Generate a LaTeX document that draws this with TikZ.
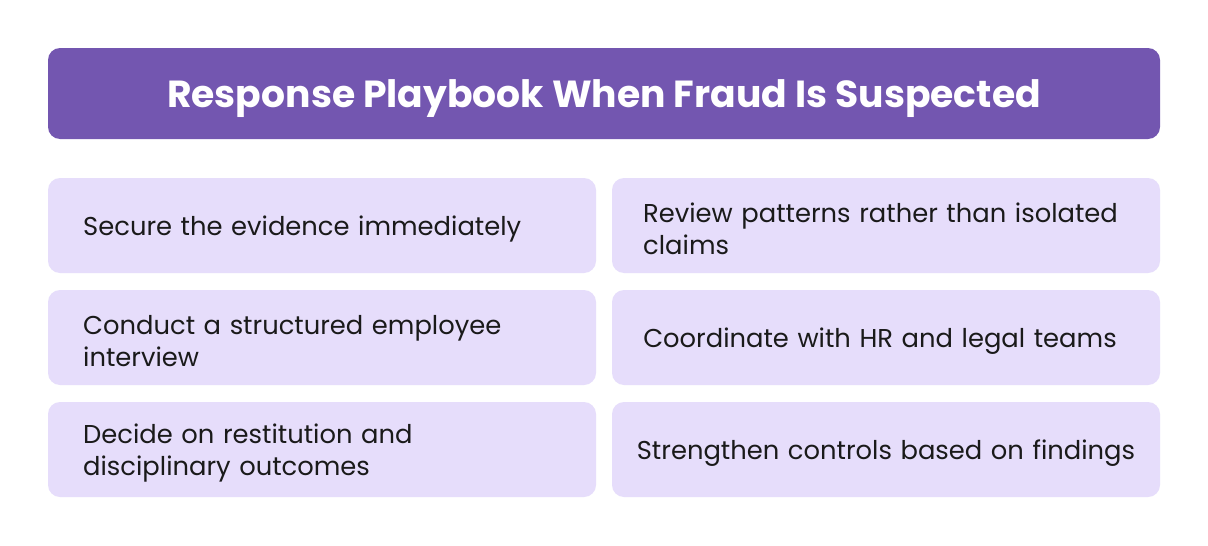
\documentclass[tikz,border=0pt]{standalone}
\usepackage{fontspec}
\setmainfont{Poppins}
\definecolor{hdr}{HTML}{7356B0}
\definecolor{cell}{HTML}{E6DDFB}
\definecolor{txt}{HTML}{1A1A1A}
\begin{document}
\begin{tikzpicture}[x=1pt,y=-1pt,
  head/.style={fill=hdr,rounded corners=12pt,draw=none},
  cellbox/.style={fill=cell,rounded corners=12pt,draw=none},
  ltext/.style={anchor=west,align=left,text width=500pt,font=\fontsize{25.8}{32}\selectfont,text=txt,inner sep=0pt},
  rtext/.style={anchor=center,align=center,text width=540pt,font=\fontsize{25.8}{32}\selectfont,text=txt,inner sep=0pt}]
\useasboundingbox (0,0) rectangle (1208,546);
\fill[white] (0,0) rectangle (1208,546);
\fill[head] (48,48) rectangle (1160,139);
\node[font=\bfseries\fontsize{37.7}{42}\selectfont,text=white] (title) at (604,99) {Response Playbook When Fraud Is Suspected};
\foreach \y/\n in {178/1,290/2,402/3}{
  \fill[cellbox] (48,\y) rectangle (596,\y+95);
  \fill[cellbox] (612,\y) rectangle (1160,\y+95);
}
\node[ltext] (l1) at (83,229) {Secure the evidence immediately};
\node[ltext] (l2) at (83,341) {Conduct a structured employee\\interview};
\node[ltext] (l3) at (83,453) {Decide on restitution and\\disciplinary outcomes};
\node[rtext,align=left,anchor=west,text width=520pt] (r1) at (643,229) {Review patterns rather than isolated\\claims};
\node[rtext] (r2) at (880,341) {Coordinate with HR and legal teams};
\node[rtext] (r3) at (886,453) {Strengthen controls based on findings};
\end{tikzpicture}
\end{document}
